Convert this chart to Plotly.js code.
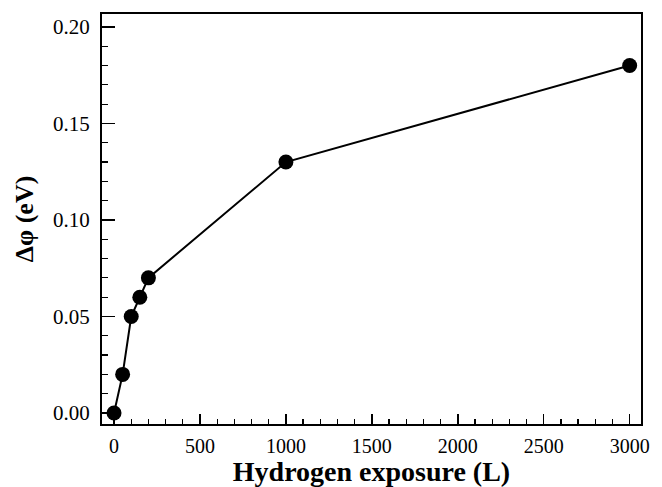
<!DOCTYPE html>
<html><head><meta charset="utf-8">
<script src="https://cdn.plot.ly/plotly-3.0.1.min.js"></script>
<style>html,body{margin:0;padding:0;background:#fff}</style>
</head><body><div id="chart" style="width:662px;height:487px"></div>
<script>
const exposure = [0, 50, 100, 150, 200, 1000, 3000];
const deltaPhi = [0.00, 0.02, 0.05, 0.06, 0.07, 0.13, 0.18];
const xTickVals = [0, 500, 1000, 1500, 2000, 2500, 3000];
const yTickVals = [0.00, 0.05, 0.10, 0.15, 0.20];

const trace = {
  x: exposure, y: deltaPhi, mode: 'lines+markers', type: 'scatter',
  line: {color: '#000', width: 2},
  marker: {color: '#000', size: 15},
  cliponaxis: false
};
const fontFam = 'Liberation Serif';
const layout = {
  width: 662, height: 487,
  margin: {l: 102, r: 21, t: 14, b: 63},
  paper_bgcolor: '#fff', plot_bgcolor: '#fff',
  showlegend: false,
  font: {family: fontFam, color: '#000', size: 21},
  xaxis: {
    range: [-70, 3066], tickvals: xTickVals, ticktext: xTickVals.map(String),
    ticks: 'inside', ticklen: 10, tickwidth: 1.5, tickcolor: '#000',
    minor: {dtick: 100, tick0: 0, ticks: 'inside', ticklen: 5, tickwidth: 1.2, tickcolor: '#000', showgrid: false},
    showline: true, linecolor: '#000', linewidth: 2, mirror: true,
    showgrid: false, zeroline: false, automargin: false,
    ticklabelstandoff: 3,
    tickfont: {family: fontFam, size: 20, color: '#000'},
    title: {text: '<b>Hydrogen exposure (L)</b>', font: {family: fontFam, size: 28, color: '#000'}, standoff: 12}
  },
  yaxis: {
    range: [-0.0057, 0.2067], tickvals: yTickVals, ticktext: yTickVals.map(v => v.toFixed(2)),
    ticks: 'inside', ticklen: 13, tickwidth: 1.5, tickcolor: '#000',
    minor: {dtick: 0.01, tick0: 0, ticks: 'inside', ticklen: 6, tickwidth: 1.2, tickcolor: '#000', showgrid: false},
    showline: true, linecolor: '#000', linewidth: 2, mirror: true,
    showgrid: false, zeroline: false, automargin: false,
    ticklabelstandoff: 6,
    tickfont: {family: fontFam, size: 21, color: '#000'},
    title: {text: '<b>Δφ (eV)</b>', font: {family: fontFam, size: 26, color: '#000'}, standoff: 12}
  }
};
Plotly.newPlot('chart', [trace], layout, {displayModeBar: false, staticPlot: true});
</script></body></html>
